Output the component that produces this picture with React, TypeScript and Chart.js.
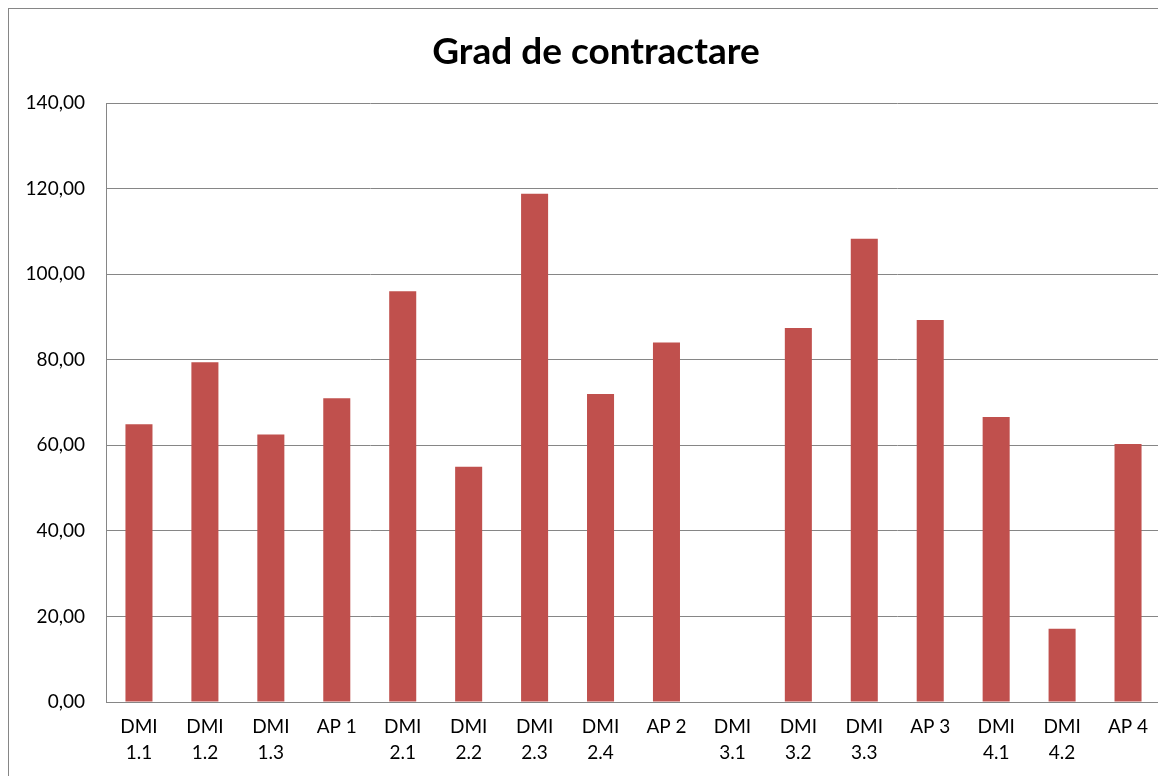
import React, { useEffect, useRef } from "react";
import { Chart, registerables } from "chart.js";

Chart.register(...registerables);

const categories: string[][] = [
  ["DMI", "1.1"], ["DMI", "1.2"], ["DMI", "1.3"], ["AP 1"],
  ["DMI", "2.1"], ["DMI", "2.2"], ["DMI", "2.3"], ["DMI", "2.4"], ["AP 2"],
  ["DMI", "3.1"], ["DMI", "3.2"], ["DMI", "3.3"], ["AP 3"],
  ["DMI", "4.1"], ["DMI", "4.2"], ["AP 4"],
];
const values: number[] = [
  64.9, 79.4, 62.5, 71.0, 96.0, 55.0, 118.8, 72.0, 84.0,
  0, 87.4, 108.3, 89.3, 66.6, 17.1, 60.3,
];
const yTicks = { min: 0, max: 140, step: 20 };
const title = "Grad de contractare";

export default function App() {
  const ref = useRef<HTMLCanvasElement | null>(null);
  useEffect(() => {
    if (!ref.current) return;
    const font = "Lato, 'Open Sans', sans-serif";
    const titlePlugin = {
      id: "offsetTitle",
      afterDraw(chart: any) {
        const ctx = chart.ctx;
        ctx.save();
        ctx.fillStyle = "#000";
        ctx.font = `bold 37px ${font}`;
        ctx.textAlign = "center";
        ctx.textBaseline = "middle";
        ctx.fillText(title, 587, 43);
        ctx.restore();
      },
    };
    const chart = new Chart(ref.current, {
      type: "bar",
      data: {
        labels: categories,
        datasets: [
          {
            data: values,
            backgroundColor: "#C0504D",
            borderWidth: 0,
            barPercentage: 0.41,
            categoryPercentage: 1,
          },
        ],
      },
      options: {
        animation: false,
        responsive: false,
        maintainAspectRatio: false,
        layout: { padding: { left: 0, right: 5, top: 94, bottom: 0 } },
        plugins: {
          legend: { display: false },
          tooltip: { enabled: false },
          title: { display: false },
        },
        scales: {
          x: {
            grid: { display: false, drawTicks: false },
            border: { display: true, color: "#868686", width: 1 },
            ticks: {
              color: "#000",
              font: { family: font, size: 19, lineHeight: 1.35 },
              padding: 12,
              maxRotation: 0,
              autoSkip: false,
            },
            afterFit: (s: any) => {
              s.height = 74;
            },
          },
          y: {
            min: yTicks.min,
            max: yTicks.max,
            grid: { color: "#868686", lineWidth: 1, drawTicks: false },
            border: { display: true, color: "#868686", width: 1 },
            ticks: {
              stepSize: yTicks.step,
              color: "#000",
              font: { family: font, size: 19 },
              padding: 21,
              callback: (v: any) => Number(v).toFixed(2).replace(".", ","),
            },
            afterFit: (s: any) => {
              s.width = 97;
            },
          },
        },
      },
      plugins: [titlePlugin],
    });
    return () => chart.destroy();
  }, []);
  return (
    <div
      style={{
        width: 1157,
        height: 767,
        borderLeft: "1px solid #868686",
        borderTop: "1px solid #868686",
        background: "#fff",
        overflow: "hidden",
      }}
    >
      <canvas ref={ref} width={1157} height={767} style={{ display: "block" }} />
    </div>
  );
}
